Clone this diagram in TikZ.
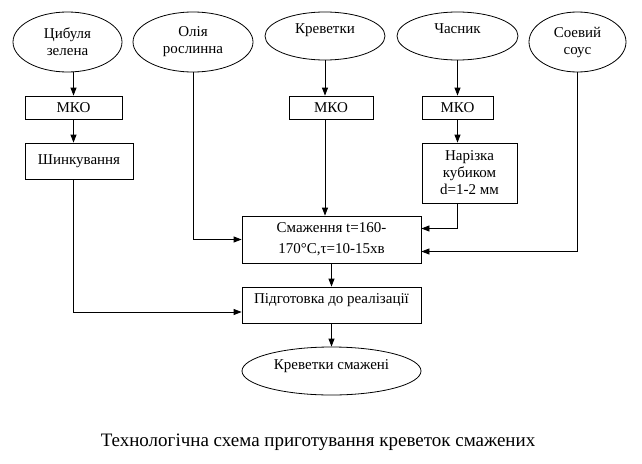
\documentclass[tikz,border=0pt]{standalone}
\usepackage{fontspec}
\setmainfont{Liberation Serif}
\usetikzlibrary{arrows.meta,shapes.geometric}
\begin{document}
\begin{tikzpicture}[x=1pt,y=-1pt,line width=0.8pt]
		\tikzstyle{ov}=[ellipse,draw=black,align=center,inner sep=0pt,font=\fontsize{15}{17}\selectfont]
		\tikzstyle{op}=[rectangle,draw=black,align=center,inner sep=0pt,font=\fontsize{15}{17}\selectfont]
		\tikzstyle{arr}=[-{Triangle[length=8pt,width=6pt]}]
		\useasboundingbox (0,0) rectangle (642,463);
		% raw products
		\node[ov,minimum width=109pt,minimum height=60pt] (cz) at (67.5,42) {Цибуля\\зелена};
		\node[ov,minimum width=120pt,minimum height=60pt] (ol) at (193,42) {Олія\\рослинна};
		\node[ov,minimum width=120pt,minimum height=48pt,text depth=15pt] (kr) at (325,36) {Креветки};
		\node[ov,minimum width=121pt,minimum height=48pt,text depth=15pt] (ch) at (457.5,36) {Часник};
		\node[ov,minimum width=97pt,minimum height=60pt] (ss) at (577.5,42) {Соевий\\соус};
		% operations
		\node[op,minimum width=97pt,minimum height=23pt] (m-1) at (73.5,107.5) {МКО};
		\node[op,minimum width=108pt,minimum height=36pt] (sh) at (79,161) {Шинкування};
		\node[op,minimum width=84pt,minimum height=23pt] (m-2) at (331,107.5) {МКО};
		\node[op,minimum width=71pt,minimum height=23pt] (m-3) at (457.5,107.5) {МКО};
		\node[op,minimum width=95pt,minimum height=60pt] (nr) at (469.5,173) {Нарізка\\кубиком\\d=1-2 мм};
		\node[op,minimum width=179pt,minimum height=47pt] (sm) at (331.5,239.5) {Смаження t=160-\\[4pt]170°C,τ=10-15хв};
		\node[op,minimum width=179pt,minimum height=36pt,text depth=13pt] (pd) at (331.5,305) {Підготовка до реалізації};
		\node[ov,minimum width=179pt,minimum height=48pt,text depth=13pt] (ks) at (331.5,371) {Креветки смажені};
		\node[font=\fontsize{19}{21}\selectfont] (cap) at (318,442) {Технологічна схема приготування креветок смажених};

		\path[arr]
		(cz.south -| m-1) edge (m-1)
		(m-1) edge (m-1 |- sh.north)
		(kr) edge (kr |- m-2.north)
		(m-2.south -| kr) edge (kr |- sm.north)
		(ch) edge (m-3)
		(m-3) edge (m-3 |- nr.north)
		(sm) edge (pd)
		(pd) edge (ks)
		;
		\draw[arr] (sh.south -| m-1) |- ([yshift=-7pt]pd.west);
		\draw[arr] (ol) |- (sm.west);
		\draw[arr] (nr.south -| m-3) |- ([yshift=11pt]sm.east);
		\draw[arr] (ss) |- ([yshift=-12pt]sm.east);
\end{tikzpicture}
\end{document}
